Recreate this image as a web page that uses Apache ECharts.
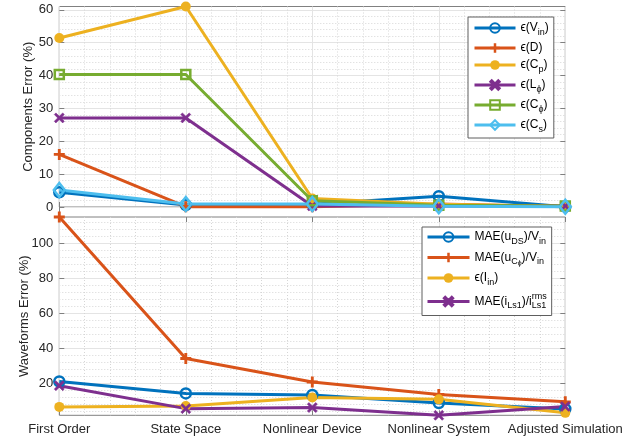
<!DOCTYPE html>
<html>
<head>
<meta charset="utf-8">
<script src="https://cdn.jsdelivr.net/npm/echarts@6/dist/echarts.min.js"></script>
<style>
  html, body { margin: 0; padding: 0; background: #ffffff; }
  #chart { width: 641px; height: 441px; }
</style>
</head>
<body>
<div id="chart"></div>
<script>
// Model stages on the shared x axis
const categories = ['First Order', 'State Space', 'Nonlinear Device', 'Nonlinear System', 'Adjusted Simulation'];

// Components error (%)
const errVin  = [4.5, 0.6, 0.8, 3.3, 0.1];
const errD    = [16.0, 0.1, 0.1, 0.9, 0.1];
const errCp   = [51.4, 61.0, 2.6, 0.8, 0.2];
const errLphi = [27.1, 27.1, 0.3, 0.3, 0.3];
const errCphi = [40.3, 40.3, 1.9, 0.5, 0.3];
const errCs   = [5.2, 0.9, 0.9, 0.2, 0.1];

// Waveforms error (%)
const maeUds   = [20.9, 14.1, 13.2, 8.6, 5.2];
const maeUcphi = [114.8, 34.0, 20.6, 13.5, 9.3];
const errIin   = [6.4, 6.9, 11.8, 10.7, 3.0];
const maeILs1  = [18.5, 5.4, 6.0, 1.6, 6.6];

// Tick labels
const compTicks = [0, 10, 20, 30, 40, 50, 60];
const waveTicks = [20, 40, 60, 80, 100];

// Axis ranges (tight to the data)
const compRange = [0, 61];
const waveRange = [1.6, 114.8];

// Minor grid positions between the major ticks
function minorValues(step, lo, hi, majorStep) {
  const out = [];
  for (let v = Math.ceil(lo / step) * step; v <= hi + 1e-9; v += step) {
    const r = Math.round(v * 1000) / 1000;
    if (Math.abs(r / majorStep - Math.round(r / majorStep)) > 1e-6) out.push(r);
  }
  return out;
}
const compMinor = minorValues(2, compRange[0], compRange[1], 10);
const waveMinor = minorValues(4, waveRange[0], waveRange[1], 20);

const FONT = '"Liberation Sans", Arial, Helvetica, sans-serif';
const TEXT = '#262626';
const BOX = '#808080';
const GRID_MAJOR = '#e4e4e4';
const GRID_MINOR = '#d6d6d6';

const C = {
  blue: '#0072BD', orange: '#D95319', yellow: '#EDB120',
  purple: '#7E2F8E', green: '#77AC30', cyan: '#4DBEEE'
};

const SYM = {
  plus: 'path://M3.7,0H6.3V3.7H10V6.3H6.3V10H3.7V6.3H0V3.7H3.7Z',
  cross: 'path://M0,1.6L1.6,0L5,3.4L8.4,0L10,1.6L6.6,5L10,8.4L8.4,10L5,6.6L1.6,10L0,8.4L3.4,5Z'
};

function marker(kind, color) {
  switch (kind) {
    case 'o':  return { symbol: 'circle', symbolSize: 10, itemStyle: { color: 'rgba(255,255,255,0)', borderColor: color, borderWidth: 2.5 } };
    case '+':  return { symbol: SYM.plus, symbolSize: 11, itemStyle: { color: color, borderWidth: 0 } };
    case '.':  return { symbol: 'circle', symbolSize: 10, itemStyle: { color: color, borderWidth: 0 } };
    case 'x':  return { symbol: SYM.cross, symbolSize: 10, itemStyle: { color: color, borderColor: color, borderWidth: 0.6 } };
    case 's':  return { symbol: 'rect', symbolSize: 9, itemStyle: { color: 'rgba(255,255,255,0)', borderColor: color, borderWidth: 2.5 } };
    case 'd':  return { symbol: 'diamond', symbolSize: [11, 14], itemStyle: { color: 'rgba(255,255,255,0)', borderColor: color, borderWidth: 2.5 } };
  }
}

function line(name, data, axisIndex, color, kind) {
  return Object.assign({
    name: name,
    type: 'line',
    xAxisIndex: axisIndex,
    yAxisIndex: axisIndex === 0 ? 0 : 3,
    data: data,
    clip: false,
    showAllSymbol: true,
    lineStyle: { color: color, width: 3 },
    emphasis: { disabled: true },
    z: 3
  }, marker(kind, color));
}

// Legend labels with sub/superscripts
const legendRich = {
  'ϵ(Vin)':  '{n|ϵ(V}{s|in}{n|)}',
  'ϵ(D)':    '{n|ϵ(D)}',
  'ϵ(Cp)':   '{n|ϵ(C}{s|p}{n|)}',
  'ϵ(Lϕ)':   '{n|ϵ(L}{s|ϕ}{n|)}',
  'ϵ(Cϕ)':   '{n|ϵ(C}{s|ϕ}{n|)}',
  'ϵ(Cs)':   '{n|ϵ(C}{s|s}{n|)}',
  'MAE(uDS)/Vin':   '{n|MAE(u}{s|DS}{n|)/V}{s|in}',
  'MAE(uCϕ)/Vin':   '{n|MAE(u}{s|C}{ss|ϕ}{n|)/V}{s|in}',
  'ϵ(Iin)':         '{n|ϵ(I}{s|in}{n|)}',
  'MAE(iLs1)/iLs1': '{n|MAE(i}{s|Ls1}{n|)/i}{sup|rms}{s|Ls1}'
};
const richStyles = {
  n:   { fontSize: 12, lineHeight: 18, color: '#000', fontFamily: FONT },
  s:   { fontSize: 9, lineHeight: 9, verticalAlign: 'bottom', color: '#000', fontFamily: FONT },
  ss:  { fontSize: 7, lineHeight: 6, verticalAlign: 'bottom', color: '#000', fontFamily: FONT },
  sup: { fontSize: 9, lineHeight: 9, verticalAlign: 'top', width: 0, color: '#000', fontFamily: FONT }
};

const grids = [
  { left: 59.3, right: 75.7, top: 6.5, height: 200.5 },
  { left: 59.3, right: 75.7, top: 217, height: 198.3 }
];

function catAxis(gridIndex, showLabels) {
  return {
    type: 'category', gridIndex: gridIndex, data: categories, boundaryGap: false,
    position: 'bottom',
    axisLine: { show: false },
    axisTick: { show: true, inside: true, length: 5, lineStyle: { color: BOX } },
    axisLabel: { show: showLabels, color: TEXT, fontSize: 13, fontFamily: FONT, margin: 8, interval: 0 },
    splitLine: { show: true, lineStyle: { color: GRID_MAJOR, width: 1 } }
  };
}
function minorXAxis(gridIndex) {
  return {
    type: 'value', gridIndex: gridIndex, min: 0, max: categories.length - 1, interval: 1,
    position: 'top',
    axisLine: { show: false },
    axisTick: { show: true, inside: true, length: 5, lineStyle: { color: BOX } },
    axisLabel: { show: false },
    splitLine: { show: false },
    minorTick: { show: false, splitNumber: 5 },
    minorSplitLine: { show: true, lineStyle: { color: GRID_MINOR, type: [1, 2], width: 1 } }
  };
}
function mainYAxis(gridIndex, range, ticks, name, nameGap) {
  return {
    type: 'value', gridIndex: gridIndex, min: range[0], max: range[1], position: 'left',
    name: name, nameLocation: 'middle', nameGap: nameGap, nameMoveOverlap: false,
    nameTextStyle: { color: TEXT, fontSize: 13, fontFamily: FONT },
    axisLine: { show: false },
    axisTick: { show: true, inside: true, length: 5, customValues: ticks, lineStyle: { color: BOX } },
    axisLabel: { show: true, customValues: ticks, color: TEXT, fontSize: 13, fontFamily: FONT, margin: 6 },
    splitLine: { show: true, lineStyle: { color: GRID_MAJOR, width: 1 } }
  };
}
function rightYAxis(gridIndex, range, ticks) {
  return {
    type: 'value', gridIndex: gridIndex, min: range[0], max: range[1], position: 'right',
    axisLine: { show: false },
    axisTick: { show: true, inside: true, length: 5, customValues: ticks, lineStyle: { color: BOX } },
    axisLabel: { show: false, customValues: ticks },
    splitLine: { show: false }
  };
}
function minorYAxis(gridIndex, range, values) {
  return {
    type: 'value', gridIndex: gridIndex, min: range[0], max: range[1], position: 'right',
    axisLine: { show: false },
    axisTick: { show: false, customValues: values },
    axisLabel: { show: false, customValues: values },
    splitLine: { show: true, lineStyle: { color: GRID_MINOR, type: [1, 2], width: 1 } }
  };
}

function legendBox(names, left, top, itemWidth, itemGap, padding) {
  return {
    orient: 'vertical', left: left, top: top, padding: padding,
    itemWidth: itemWidth, itemHeight: 12, itemGap: itemGap,
    selectedMode: false,
    backgroundColor: '#ffffff', borderColor: '#5e5e5e', borderWidth: 1, borderRadius: 0,
    lineStyle: { width: 3 },
    data: names,
    formatter: function (name) { return legendRich[name] || name; },
    textStyle: { rich: richStyles, fontSize: 12, color: '#000', fontFamily: FONT }
  };
}

const option = {
  animation: false,
  backgroundColor: '#ffffff',
  grid: grids.map(g => Object.assign({ show: true, borderColor: BOX, borderWidth: 1, backgroundColor: 'transparent' }, g)),
  xAxis: [catAxis(0, false), minorXAxis(0), catAxis(1, true), minorXAxis(1)],
  yAxis: [
    mainYAxis(0, compRange, compTicks, 'Components Error (%)', 24),
    rightYAxis(0, compRange, compTicks),
    minorYAxis(0, compRange, compMinor),
    mainYAxis(1, waveRange, waveTicks, 'Waveforms Error (%)', 28),
    rightYAxis(1, waveRange, waveTicks),
    minorYAxis(1, waveRange, waveMinor)
  ],
  legend: [
    legendBox(['ϵ(Vin)', 'ϵ(D)', 'ϵ(Cp)', 'ϵ(Lϕ)', 'ϵ(Cϕ)', 'ϵ(Cs)'], 468, 17, 41, 5, [5, 5, 4, 5]),
    legendBox(['MAE(uDS)/Vin', 'MAE(uCϕ)/Vin', 'ϵ(Iin)', 'MAE(iLs1)/iLs1'], 422, 227, 42, 5.5, [4, 5, 5, 4])
  ],
  series: [
    line('ϵ(Vin)', errVin, 0, C.blue, 'o'),
    line('ϵ(D)', errD, 0, C.orange, '+'),
    line('ϵ(Cp)', errCp, 0, C.yellow, '.'),
    line('ϵ(Lϕ)', errLphi, 0, C.purple, 'x'),
    line('ϵ(Cϕ)', errCphi, 0, C.green, 's'),
    line('ϵ(Cs)', errCs, 0, C.cyan, 'd'),
    line('MAE(uDS)/Vin', maeUds, 2, C.blue, 'o'),
    line('MAE(uCϕ)/Vin', maeUcphi, 2, C.orange, '+'),
    line('ϵ(Iin)', errIin, 2, C.yellow, '.'),
    line('MAE(iLs1)/iLs1', maeILs1, 2, C.purple, 'x')
  ]
};

const chart = echarts.init(document.getElementById('chart'), null, { renderer: 'canvas' });
chart.setOption(option);
</script>
</body>
</html>
